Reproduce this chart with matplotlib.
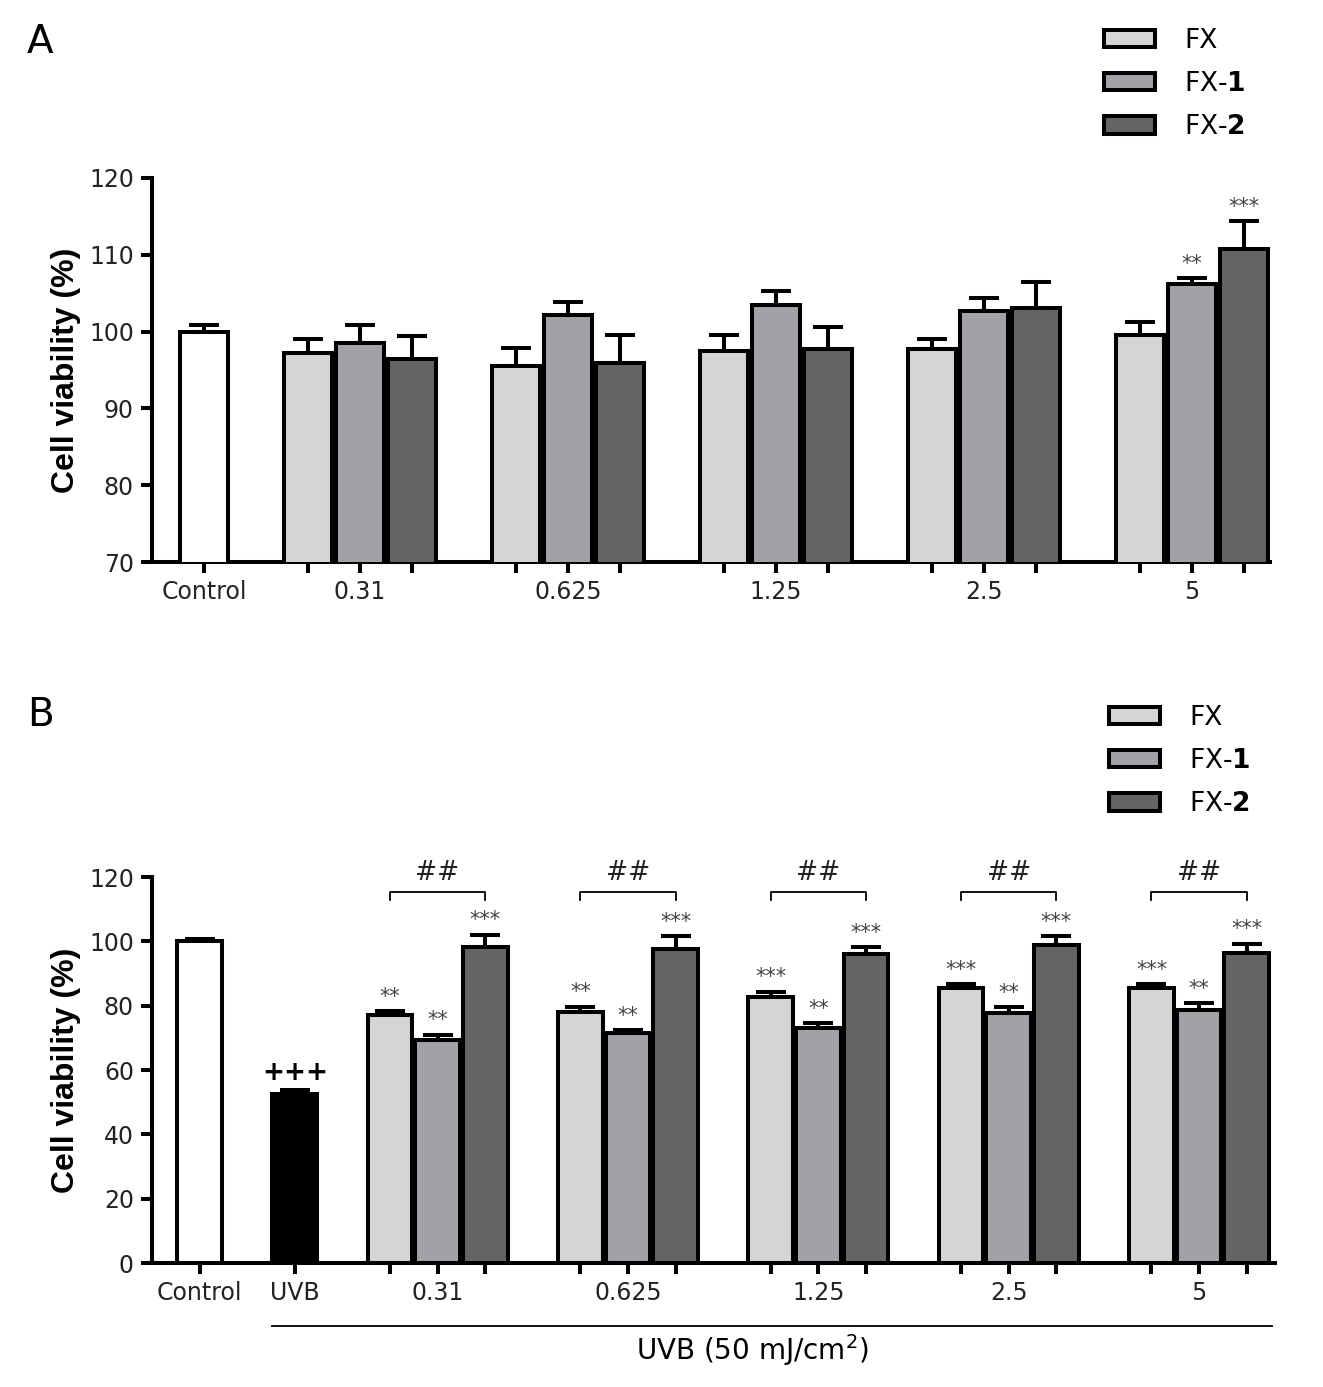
import matplotlib.pyplot as plt
from matplotlib.patches import Patch

plt.rcParams['font.family'] = 'DejaVu Sans'
plt.rcParams['mathtext.fontset'] = 'custom'
plt.rcParams['mathtext.rm'] = 'DejaVu Sans'
plt.rcParams['mathtext.bf'] = 'DejaVu Sans:bold'

concs = ['0.31', '0.625', '1.25', '2.5', '5']
series = ['FX', 'FX-$\\mathbf{1}$', 'FX-$\\mathbf{2}$']
colors = ['#d5d5d5', '#a2a2a6', '#646464']

# panel A
ctrl_a = 100.0
ctrl_a_err = 0.9
fx_a = [97.2, 95.5, 97.5, 97.7, 99.5]
fx_a_err = [1.8, 2.3, 2.1, 1.3, 1.7]
fx1_a = [98.5, 102.2, 103.4, 102.7, 106.2]
fx1_a_err = [2.4, 1.7, 1.9, 1.7, 0.8]
fx2_a = [96.4, 95.9, 97.7, 103.1, 110.8]
fx2_a_err = [3.0, 3.7, 2.9, 3.4, 3.6]
stars_fx_a = ['', '', '', '', '']
stars_fx1_a = ['', '', '', '', '**']
stars_fx2_a = ['', '', '', '', '***']

# panel B
ctrl_b = 100.0
ctrl_b_err = 0.6
uvb_b = 52.4
uvb_b_err = 1.4
fx_b = [77.2, 77.9, 82.8, 85.5, 85.5]
fx_b_err = [1.1, 1.8, 1.6, 1.1, 1.1]
fx1_b = [69.4, 71.4, 73.1, 77.7, 78.6]
fx1_b_err = [1.6, 1.0, 1.4, 1.9, 2.1]
fx2_b = [98.2, 97.7, 96.1, 99.0, 96.3]
fx2_b_err = [3.9, 4.0, 2.2, 2.7, 3.0]
stars_fx_b = ['**', '**', '***', '***', '***']
stars_fx1_b = ['**', '**', '**', '**', '**']
stars_fx2_b = ['***', '***', '***', '***', '***']

LW = 2.9
W = 0.94


def bar(ax, x, h, err, color, mark=''):
    ax.bar(x, h, W, color=color, edgecolor='black', linewidth=LW, zorder=3)
    ax.errorbar(x, h, yerr=[[0], [err]], fmt='none', ecolor='black',
                elinewidth=LW, capsize=11, capthick=LW, zorder=2)
    if mark:
        ax.annotate(mark, (x, h + err), xytext=(0, 3), textcoords='offset points',
                    ha='center', va='bottom', fontsize=15, color='#444444')


def style(ax, ymin, ymax, step, xmax, ticks, labels):
    ax.set_ylim(ymin, ymax)
    ax.set_xlim(-1, xmax)
    ax.set_yticks(range(ymin, ymax + 1, step))
    ax.set_xticks(ticks)
    ax.set_xticklabels(labels)
    for s in ['top', 'right']:
        ax.spines[s].set_visible(False)
    for s in ['left', 'bottom']:
        ax.spines[s].set_linewidth(LW)
    ax.tick_params(width=LW, length=8, labelsize=17, pad=5, colors='black')
    ax.tick_params(labelcolor='#222222')
    ax.set_ylabel('Cell viability (%)', family='Liberation Sans', fontweight='bold',
                  fontsize=23, labelpad=6)


fig = plt.figure(figsize=(13.23, 13.87), dpi=100)

# ---- A ----
axa = fig.add_axes([0.1149, 0.5948, 0.845, 0.2769])
bar(axa, 0, ctrl_a, ctrl_a_err, 'white')
ticks = [0]
labels = ['Control']
vals_a = [(fx_a, fx_a_err, stars_fx_a), (fx1_a, fx1_a_err, stars_fx1_a), (fx2_a, fx2_a_err, stars_fx2_a)]
for i, c in enumerate(concs):
    center = 3 + 4 * i
    for j, (v, e, s) in enumerate(vals_a):
        bar(axa, center + j - 1, v[i], e[i], colors[j], s[i])
        ticks.append(center + j - 1)
        labels.append(c if j == 1 else '')
style(axa, 70, 120, 10, 20.5, ticks, labels)

# ---- B ----
axb = fig.add_axes([0.1149, 0.0894, 0.849, 0.2783])
bar(axb, 0, ctrl_b, ctrl_b_err, 'white')
bar(axb, 2, uvb_b, uvb_b_err, 'black')
axb.annotate('+++', (2, uvb_b + uvb_b_err), xytext=(0, 3), textcoords='offset points',
             ha='center', va='bottom', fontsize=19, fontweight='bold')
ticks = [0, 2]
labels = ['Control', 'UVB']
vals_b = [(fx_b, fx_b_err, stars_fx_b), (fx1_b, fx1_b_err, stars_fx1_b), (fx2_b, fx2_b_err, stars_fx2_b)]
for i, c in enumerate(concs):
    center = 5 + 4 * i
    for j, (v, e, s) in enumerate(vals_b):
        bar(axb, center + j - 1, v[i], e[i], colors[j], s[i])
        ticks.append(center + j - 1)
        labels.append(c if j == 1 else '')
    # bracket FX vs FX-2
    axb.plot([center - 1, center - 1, center + 1, center + 1], [112.8, 115.3, 115.3, 112.8],
             color='black', linewidth=1.3, clip_on=False)
    axb.text(center, 117.3, '##', ha='center', va='bottom', fontsize=19, color='#222222')
style(axb, 0, 120, 20, 22.6, ticks, labels)

# UVB underline
fig.add_artist(plt.Line2D([272 / 1323, 1272 / 1323], [1 - 1326 / 1387] * 2, color='black', linewidth=1.3))
fig.text(752 / 1323, 1 - 1350 / 1387, 'UVB (50 mJ/cm$^2$)', ha='center', va='center', fontsize=20)

# panel letters
fig.text(27 / 1323, 1 - 42 / 1387, 'A', fontsize=28, va='center', ha='left')
fig.text(27 / 1323, 1 - 715 / 1387, 'B', fontsize=28, va='center', ha='left')

# legends
handles = [Patch(facecolor=c, edgecolor='black', linewidth=LW) for c in colors]
for x0, y0 in [(1080, 4), (1085, 681)]:
    fig.legend(handles, series, loc='upper left', bbox_to_anchor=(x0 / 1323, 1 - y0 / 1387),
               frameon=False, fontsize=19, handlelength=1.95, handleheight=0.65,
               labelspacing=0.65, handletextpad=1.1)

fig.savefig('out.png', dpi=100)
